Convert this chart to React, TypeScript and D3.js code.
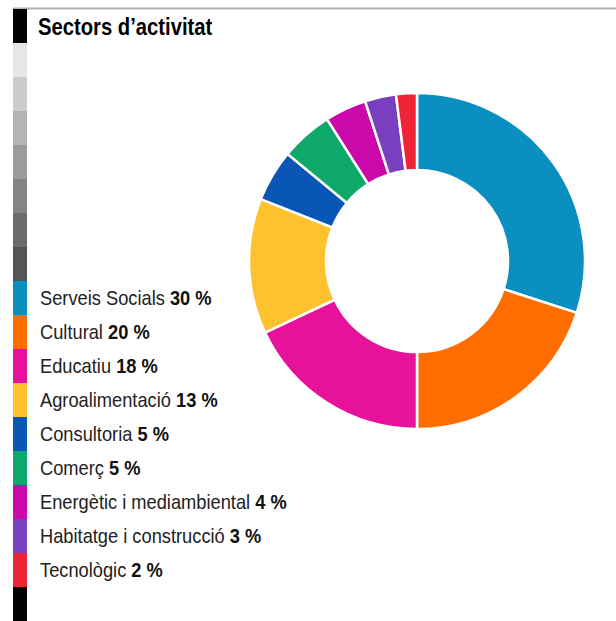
import React from "react";
import * as d3 from "d3";

const title = "Sectors d’activitat";
const categories = [
  "Serveis Socials",
  "Cultural",
  "Educatiu",
  "Agroalimentació",
  "Consultoria",
  "Comerç",
  "Energètic i mediambiental",
  "Habitatge i construcció",
  "Tecnològic",
];
const values = [30, 20, 18, 13, 5, 5, 4, 3, 2];
const colors = [
  "#0b8fc1",
  "#ff6d00",
  "#e6139a",
  "#fdc22d",
  "#0a56b6",
  "#0fa86b",
  "#cb08a9",
  "#7a3fc0",
  "#ee2536",
];
const greys = ["#e6e6e6", "#cbcbcb", "#b4b4b4", "#9b9b9b", "#848484", "#6d6d6d", "#555555"];

const FONT = "'Liberation Sans', Arial, sans-serif";

export default function App() {
  const W = 616;
  const H = 621;
  const cx = 417;
  const cy = 261;
  const outerR = 168;
  const innerR = 91;

  const pie = d3
    .pie<number>()
    .sort(null)
    .value((d) => d)
    .startAngle(0)
    .endAngle(2 * Math.PI);
  const arcs = pie(values);
  const arc = d3.arc<d3.PieArcDatum<number>>().innerRadius(innerR).outerRadius(outerR);

  const segH = 34;
  const stripTop = 9;
  const stripX = 13;
  const stripW = 14;
  const strip = ["#000000", ...greys, ...colors, "#000000"];
  const legendStart = 1 + greys.length;

  return (
    <svg
      width={W}
      height={H}
      style={{ position: "absolute", left: 0, top: 0, background: "#fff" }}
    >
      <rect x={0} y={0} width={W} height={H} fill="#fff" />
      <rect x={stripX} y={7.5} width={W - stripX} height={2} fill="#b0b0b0" />
      {strip.map((c, i) => (
        <rect key={i} x={stripX} y={stripTop + i * segH} width={stripW} height={segH + 0.5} fill={c} />
      ))}
      <text
        transform={`translate(38,35) scale(0.88,1)`}
        fontFamily={FONT}
        fontWeight="bold"
        fontSize={23}
        fill="#000"
      >
        {title}
      </text>
      {categories.map((c, i) => (
        <text
          key={c}
          transform={`translate(40,${stripTop + (legendStart + i) * segH + 24}) scale(0.87,1)`}
          fontFamily={FONT}
          fontSize={21}
          fill="#222"
        >
          {c}{" "}
          <tspan fontWeight="bold" fill="#111">
            {values[i]} %
          </tspan>
        </text>
      ))}
      <g transform={`translate(${cx},${cy})`}>
        {arcs.map((a, i) => (
          <path key={i} d={arc(a) || ""} fill={colors[i]} stroke="#fff" strokeWidth={2.5} />
        ))}
      </g>
    </svg>
  );
}
